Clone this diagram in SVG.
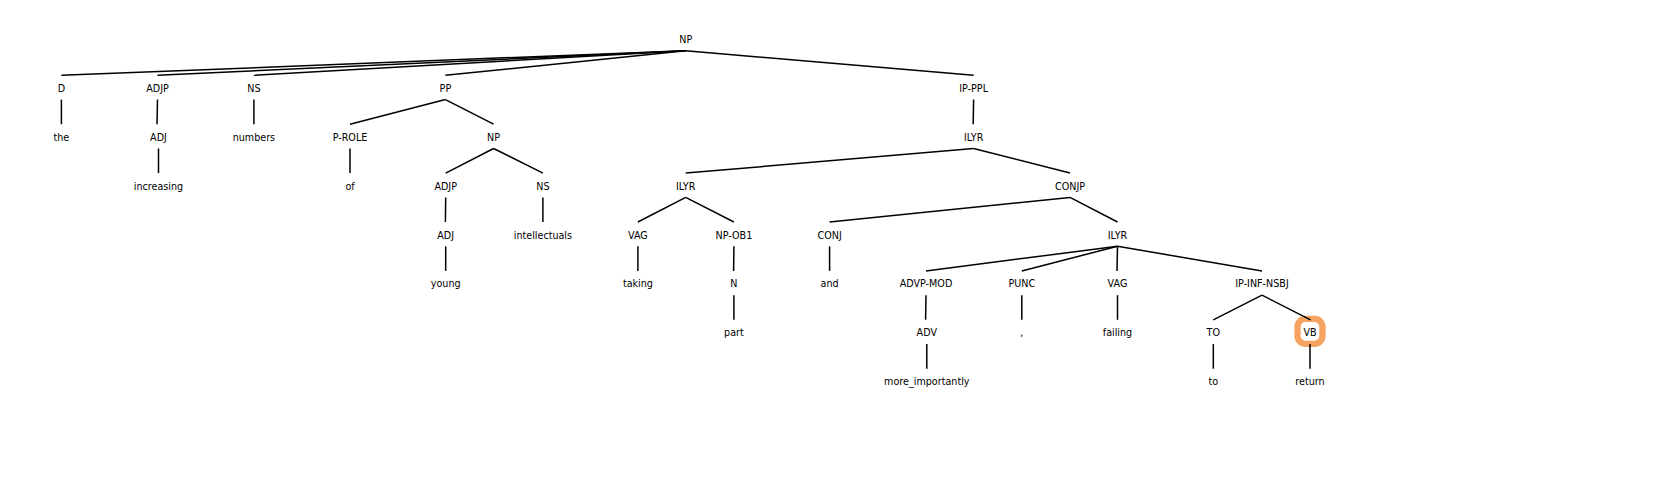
<svg xmlns="http://www.w3.org/2000/svg" width="1680" height="488" viewBox="0 0 1680 488">
<style>
text{font-family:"DejaVu Sans",sans-serif;font-size:9.6px;fill:#000;text-anchor:middle}
.e line{stroke:#000;stroke-width:1.5;stroke-linecap:butt}
.hl{fill:#fff;stroke:#f4a460;stroke-width:6.3}
</style>
<rect width="1680" height="488" fill="#fff"/>
<g id="highlight"><rect class="hl" x="1297.5" y="318.9" width="25" height="25" rx="8"/></g>
<g class="e" id="connectors">
<line x1="685.7" y1="50.7" x2="61.4" y2="75.3"/>
<line x1="685.7" y1="50.7" x2="157.5" y2="75.3"/>
<line x1="685.7" y1="50.7" x2="253.9" y2="75.3"/>
<line x1="685.7" y1="50.7" x2="445.4" y2="75.3"/>
<line x1="685.7" y1="50.7" x2="973.6" y2="75.3"/>
<line x1="61.4" y1="99.6" x2="61.4" y2="124.2"/>
<line x1="157.5" y1="99.6" x2="157" y2="124.2"/>
<line x1="158.5" y1="148.5" x2="158.5" y2="173.1"/>
<line x1="253.9" y1="99.6" x2="253.9" y2="124.2"/>
<line x1="445.4" y1="99.6" x2="350" y2="124.2"/>
<line x1="445.4" y1="99.6" x2="493.6" y2="124.2"/>
<line x1="350" y1="148.5" x2="350" y2="173.1"/>
<line x1="493.6" y1="148.5" x2="445.7" y2="173.1"/>
<line x1="493.6" y1="148.5" x2="542.9" y2="173.1"/>
<line x1="445.7" y1="197.4" x2="445.4" y2="222"/>
<line x1="445.7" y1="246.3" x2="445.7" y2="270.9"/>
<line x1="542.9" y1="197.4" x2="542.9" y2="222"/>
<line x1="973.6" y1="99.6" x2="973.2" y2="124.2"/>
<line x1="973.6" y1="148.5" x2="685.7" y2="173.1"/>
<line x1="973.6" y1="148.5" x2="1070" y2="173.1"/>
<line x1="685.7" y1="197.4" x2="637.9" y2="222"/>
<line x1="685.7" y1="197.4" x2="733.9" y2="222"/>
<line x1="637.9" y1="246.3" x2="637.9" y2="270.9"/>
<line x1="733.9" y1="246.3" x2="733.6" y2="270.9"/>
<line x1="733.9" y1="295.2" x2="733.9" y2="319.8"/>
<line x1="1070" y1="197.4" x2="829.6" y2="222"/>
<line x1="1070" y1="197.4" x2="1117.5" y2="222"/>
<line x1="829.6" y1="246.3" x2="829.6" y2="270.9"/>
<line x1="1117.5" y1="246.3" x2="926" y2="270.9"/>
<line x1="1117.5" y1="246.3" x2="1021.8" y2="270.9"/>
<line x1="1117.5" y1="246.3" x2="1117" y2="270.9"/>
<line x1="1117.5" y1="246.3" x2="1262" y2="270.9"/>
<line x1="926" y1="295.2" x2="925.6" y2="319.8"/>
<line x1="926.8" y1="344.1" x2="926.8" y2="368.7"/>
<line x1="1021.8" y1="295.2" x2="1021.8" y2="319.8"/>
<line x1="1117.5" y1="295.2" x2="1117.5" y2="319.8"/>
<line x1="1262" y1="295.2" x2="1213.3" y2="319.8"/>
<line x1="1262" y1="295.2" x2="1310.5" y2="319.8"/>
<line x1="1213.3" y1="344.1" x2="1213.3" y2="368.7"/>
<line x1="1310" y1="344.1" x2="1310" y2="368.7"/>
</g>
<g id="n0"><text x="685.7" y="42.9">NP</text></g>
<g id="n1"><text x="61.4" y="91.8">D</text></g>
<g id="n2"><text x="61.4" y="140.7">the</text></g>
<g id="n3"><text x="157.5" y="91.8">ADJP</text></g>
<g id="n4"><text x="158.5" y="140.7">ADJ</text></g>
<g id="n5"><text x="158.5" y="189.6">increasing</text></g>
<g id="n6"><text x="253.9" y="91.8">NS</text></g>
<g id="n7"><text x="253.9" y="140.7">numbers</text></g>
<g id="n8"><text x="445.4" y="91.8">PP</text></g>
<g id="n9"><text x="350" y="140.7">P-ROLE</text></g>
<g id="n10"><text x="350" y="189.6">of</text></g>
<g id="n11"><text x="493.6" y="140.7">NP</text></g>
<g id="n12"><text x="445.7" y="189.6">ADJP</text></g>
<g id="n13"><text x="445.7" y="238.5">ADJ</text></g>
<g id="n14"><text x="445.7" y="287.4">young</text></g>
<g id="n15"><text x="542.9" y="189.6">NS</text></g>
<g id="n16"><text x="542.9" y="238.5">intellectuals</text></g>
<g id="n17"><text x="973.6" y="91.8">IP-PPL</text></g>
<g id="n18"><text x="973.6" y="140.7">ILYR</text></g>
<g id="n19"><text x="685.7" y="189.6">ILYR</text></g>
<g id="n20"><text x="637.9" y="238.5">VAG</text></g>
<g id="n21"><text x="637.9" y="287.4">taking</text></g>
<g id="n22"><text x="733.9" y="238.5">NP-OB1</text></g>
<g id="n23"><text x="733.9" y="287.4">N</text></g>
<g id="n24"><text x="733.9" y="336.3">part</text></g>
<g id="n25"><text x="1070" y="189.6">CONJP</text></g>
<g id="n26"><text x="829.6" y="238.5">CONJ</text></g>
<g id="n27"><text x="829.6" y="287.4">and</text></g>
<g id="n28"><text x="1117.5" y="238.5">ILYR</text></g>
<g id="n29"><text x="926" y="287.4">ADVP-MOD</text></g>
<g id="n30"><text x="926.8" y="336.3">ADV</text></g>
<g id="n31"><text x="926.8" y="385.2">more_importantly</text></g>
<g id="n32"><text x="1021.8" y="287.4">PUNC</text></g>
<g id="n33"><text x="1021.8" y="336.3">,</text></g>
<g id="n34"><text x="1117.5" y="287.4">VAG</text></g>
<g id="n35"><text x="1117.5" y="336.3">failing</text></g>
<g id="n36"><text x="1262" y="287.4">IP-INF-NSBJ</text></g>
<g id="n37"><text x="1213.3" y="336.3">TO</text></g>
<g id="n38"><text x="1213.3" y="385.2">to</text></g>
<g id="n39"><text x="1310" y="336.3">VB</text></g>
<g id="n40"><text x="1310" y="385.2">return</text></g>
</svg>
